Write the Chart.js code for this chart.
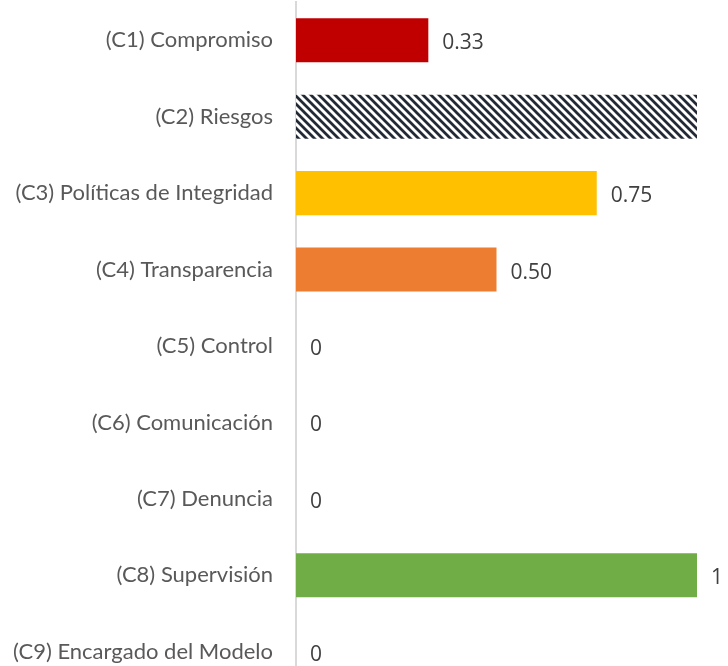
<!DOCTYPE html>
<html>
<head>
<meta charset="utf-8">
<script src="https://cdn.jsdelivr.net/npm/chart.js@4"></script>
<style>
  html, body { margin: 0; padding: 0; background: #fff; overflow: hidden; }
  #wrap { width: 728px; height: 690px; position: relative; }
</style>
</head>
<body>
<div id="wrap"><canvas id="chart"></canvas></div>
<script>
const categories = [
  "(C1) Compromiso",
  "(C2) Riesgos",
  "(C3) Políticas de Integridad",
  "(C4) Transparencia",
  "(C5) Control",
  "(C6) Comunicación",
  "(C7) Denuncia",
  "(C8) Supervisión",
  "(C9) Encargado del Modelo",
]
const values = [0.33, 1, 0.75, 0.5, 0, 0, 0, 1, 0]
// C2 is shown as a hatched bar with no value printed next to it
const showValue = [true, false, true, true, true, true, true, true, true]

const LABEL_FONT = "Lato, 'Open Sans', sans-serif"
const VALUE_FONT = "'Open Sans', Lato, sans-serif"
const COLOR_LABEL = "#595959"
const COLOR_VALUE = "#404040"
const COLOR_AXIS = "#d9d9d9"

function hatchPattern() {
  const tile = document.createElement("canvas")
  tile.width = 8
  tile.height = 8
  const c = tile.getContext("2d")
  c.fillStyle = "#ffffff"
  c.fillRect(0, 0, 8, 8)
  c.strokeStyle = "#222a35"
  c.lineWidth = 2.8
  c.beginPath()
  c.moveTo(-2, -2)
  c.lineTo(10, 10)
  c.moveTo(-10, -2)
  c.lineTo(2, 10)
  c.moveTo(6, -2)
  c.lineTo(18, 10)
  c.stroke()
  return document.getElementById("chart").getContext("2d").createPattern(tile, "repeat")
}

const barColors = [
  "#C00000",
  hatchPattern(),
  "#FFC000",
  "#ED7D31",
  "#A5A5A5",
  "#5B9BD5",
  "#4472C4",
  "#70AD47",
  "#264478",
]

function formatValue(v) {
  return Number.isInteger(v) ? String(v) : v.toFixed(2)
}

const valueLabels = {
  id: "valueLabels",
  afterDatasetsDraw(chart) {
    const ctx = chart.ctx
    const meta = chart.getDatasetMeta(0)
    ctx.save()
    ctx.font = `21px ${VALUE_FONT}`
    ctx.fillStyle = COLOR_VALUE
    ctx.textAlign = "left"
    ctx.textBaseline = "middle"
    meta.data.forEach((bar, i) => {
      if (!showValue[i]) return
      ctx.fillText(formatValue(values[i]), bar.x + 14, bar.y + 3)
    })
    ctx.restore()
  },
}

new Chart(document.getElementById("chart"), {
  type: "bar",
  data: {
    labels: categories,
    datasets: [
      {
        data: values,
        backgroundColor: barColors,
        borderWidth: 0,
        categoryPercentage: 1,
        barPercentage: 0.576,
      },
    ],
  },
  options: {
    indexAxis: "y",
    responsive: true,
    maintainAspectRatio: false,
    animation: false,
    layout: { padding: { top: 2, right: 31, bottom: 0, left: 0 } },
    scales: {
      x: { min: 0, max: 1, display: false },
      y: {
        afterFit: (scale) => {
          scale.width = 296
          scale.paddingTop = 0
          scale.paddingBottom = 0
        },
        grid: {
          drawOnChartArea: false,
          drawTicks: true,
          tickLength: 23,
          tickColor: "transparent",
        },
        border: { color: COLOR_AXIS, width: 2 },
        ticks: {
          color: COLOR_LABEL,
          font: { family: LABEL_FONT, size: 22 },
          padding: 0,
        },
      },
    },
    plugins: {
      legend: { display: false },
      tooltip: { enabled: false },
    },
  },
  plugins: [valueLabels],
})
</script>
</body>
</html>
